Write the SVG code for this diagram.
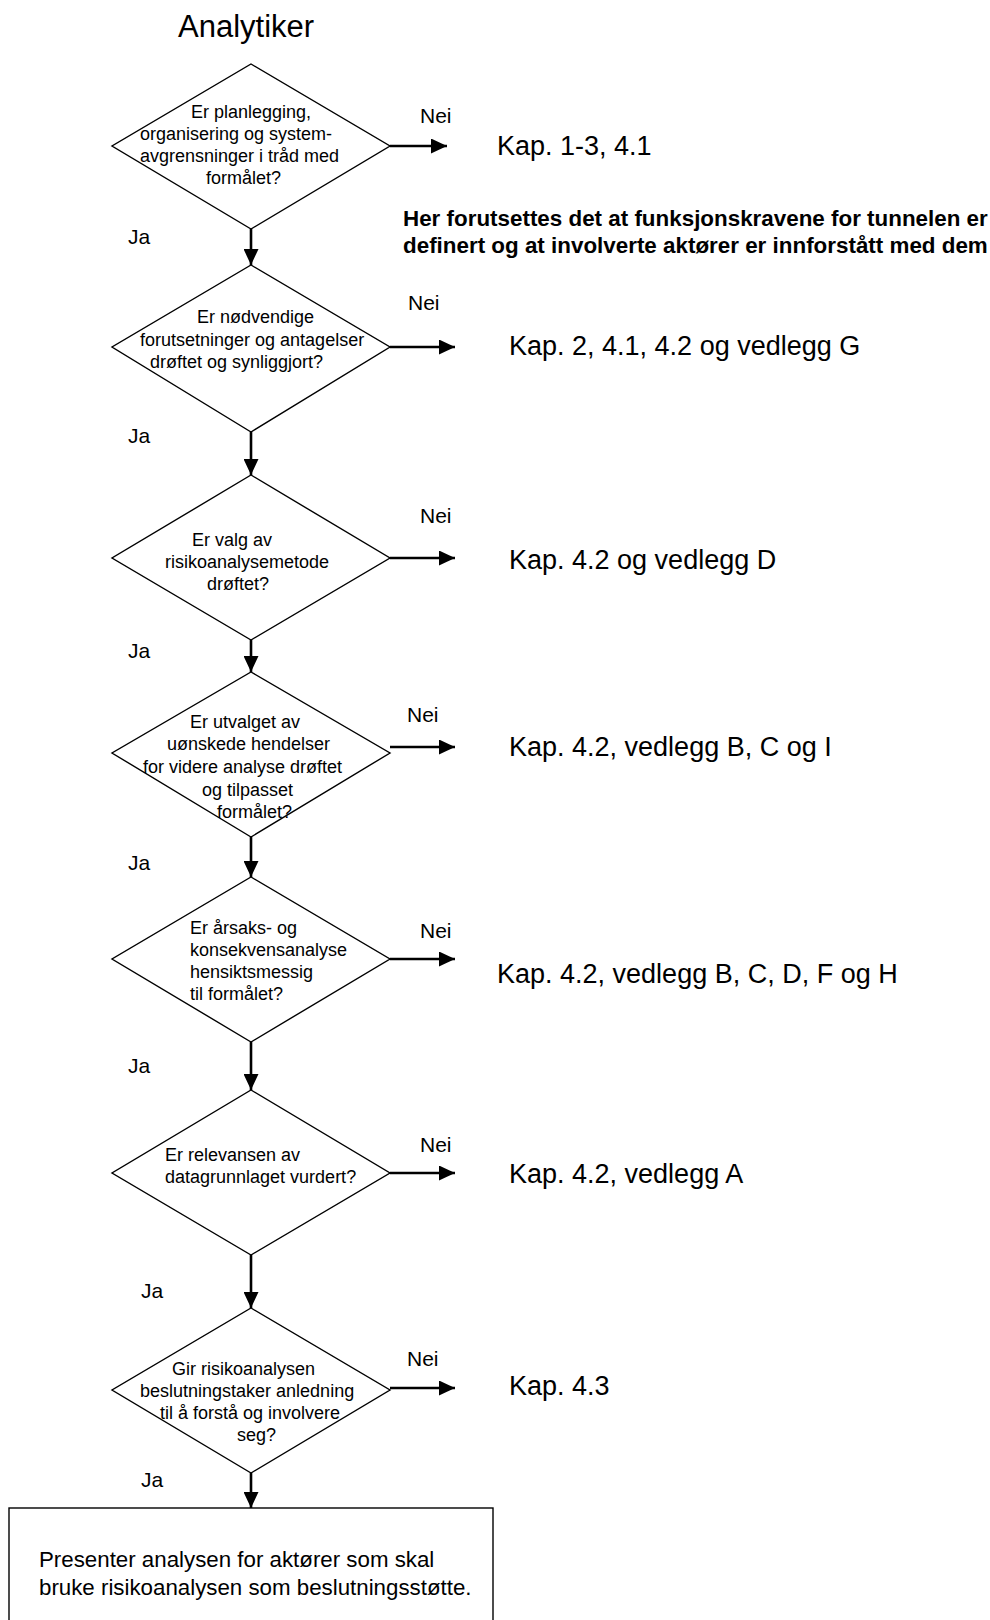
<svg xmlns="http://www.w3.org/2000/svg" width="990" height="1620" viewBox="0 0 990 1620">
  <style>
    text { font-family: "Liberation Sans", Arial, sans-serif; fill: #000; }
    .title { font-size: 31px; }
    .q { font-size: 18px; }
    .yn { font-size: 21px; }
    .ref { font-size: 27px; }
    .note { font-size: 22.4px; font-weight: bold; }
    .box { font-size: 22.3px; }
    .shape { fill: #fff; stroke: #000; stroke-width: 1.4; }
    .flow { stroke: #000; stroke-width: 2.6; fill: none; marker-end: url(#head); }
  </style>
  <defs>
    <marker id="head" markerUnits="userSpaceOnUse" markerWidth="16" markerHeight="15" refX="16" refY="7.5" orient="auto">
      <path d="M0,0 L16,7.5 L0,15 Z" fill="#000"/>
    </marker>
  </defs>
  <rect width="990" height="1620" fill="#fff"/>

  <text class="title" x="178" y="37">Analytiker</text>

  <!-- connectors -->
  <g id="connectors">
    <line class="flow" x1="251" y1="229" x2="251" y2="265"/>
    <line class="flow" x1="251" y1="432" x2="251" y2="475"/>
    <line class="flow" x1="251" y1="640" x2="251" y2="672"/>
    <line class="flow" x1="251" y1="837" x2="251" y2="877"/>
    <line class="flow" x1="251" y1="1042" x2="251" y2="1090"/>
    <line class="flow" x1="251" y1="1255" x2="251" y2="1308"/>
    <line class="flow" x1="251" y1="1473" x2="251" y2="1508"/>

    <line class="flow" x1="390" y1="146" x2="447" y2="146"/>
    <line class="flow" x1="390" y1="347" x2="455" y2="347"/>
    <line class="flow" x1="390" y1="558" x2="455" y2="558"/>
    <line class="flow" x1="390" y1="747" x2="455" y2="747"/>
    <line class="flow" x1="390" y1="959" x2="455" y2="959"/>
    <line class="flow" x1="390" y1="1173" x2="455" y2="1173"/>
    <line class="flow" x1="390" y1="1388" x2="455" y2="1388"/>

    <text class="yn" x="420" y="123">Nei</text>
    <text class="yn" x="408" y="310">Nei</text>
    <text class="yn" x="420" y="523">Nei</text>
    <text class="yn" x="407" y="722">Nei</text>
    <text class="yn" x="420" y="938">Nei</text>
    <text class="yn" x="420" y="1152">Nei</text>
    <text class="yn" x="407" y="1366">Nei</text>

    <text class="yn" x="128" y="244">Ja</text>
    <text class="yn" x="128" y="443">Ja</text>
    <text class="yn" x="128" y="658">Ja</text>
    <text class="yn" x="128" y="870">Ja</text>
    <text class="yn" x="128" y="1073">Ja</text>
    <text class="yn" x="141" y="1298">Ja</text>
    <text class="yn" x="141" y="1487">Ja</text>
  </g>

  <!-- decisions -->
  <g id="q1">
    <polygon class="shape" points="251,64 390,146 251,229 112,146"/>
    <text class="q" x="191" y="118">Er planlegging,</text>
    <text class="q" x="140" y="140">organisering og system-</text>
    <text class="q" x="140" y="162">avgrensninger i tråd med</text>
    <text class="q" x="206" y="184">formålet?</text>
  </g>
  <g id="q2">
    <polygon class="shape" points="251,265 390,347 251,432 112,347"/>
    <text class="q" x="197" y="323">Er nødvendige</text>
    <text class="q" x="140" y="346">forutsetninger og antagelser</text>
    <text class="q" x="150" y="368">drøftet og synliggjort?</text>
  </g>
  <g id="q3">
    <polygon class="shape" points="251,475 390,558 251,640 112,558"/>
    <text class="q" x="192" y="546">Er valg av</text>
    <text class="q" x="165" y="568">risikoanalysemetode</text>
    <text class="q" x="207" y="590">drøftet?</text>
  </g>
  <g id="q4">
    <polygon class="shape" points="251,672 390,753 251,837 112,753"/>
    <text class="q" x="190" y="728">Er utvalget av</text>
    <text class="q" x="167" y="750">uønskede hendelser</text>
    <text class="q" x="143" y="773">for videre analyse drøftet</text>
    <text class="q" x="202" y="796">og tilpasset</text>
    <text class="q" x="217" y="818">formålet?</text>
  </g>
  <g id="q5">
    <polygon class="shape" points="251,877 390,959 251,1042 112,959"/>
    <text class="q" x="190" y="934">Er årsaks- og</text>
    <text class="q" x="190" y="956">konsekvensanalyse</text>
    <text class="q" x="190" y="978">hensiktsmessig</text>
    <text class="q" x="190" y="1000">til formålet?</text>
  </g>
  <g id="q6">
    <polygon class="shape" points="251,1090 390,1173 251,1255 112,1173"/>
    <text class="q" x="165" y="1161">Er relevansen av</text>
    <text class="q" x="165" y="1183">datagrunnlaget vurdert?</text>
  </g>
  <g id="q7">
    <polygon class="shape" points="251,1308 390,1390 251,1473 112,1390"/>
    <text class="q" x="172" y="1375">Gir risikoanalysen</text>
    <text class="q" x="140" y="1397">beslutningstaker anledning</text>
    <text class="q" x="160" y="1419">til å forstå og involvere</text>
    <text class="q" x="237" y="1441">seg?</text>
  </g>

  <!-- chapter references -->
  <g id="refs">
    <text class="ref" x="497" y="155">Kap. 1-3, 4.1</text>
    <text class="ref" x="509" y="355">Kap. 2, 4.1, 4.2 og vedlegg G</text>
    <text class="ref" x="509" y="569">Kap. 4.2 og vedlegg D</text>
    <text class="ref" x="509" y="756">Kap. 4.2, vedlegg B, C og I</text>
    <text class="ref" x="497" y="983">Kap. 4.2, vedlegg B, C, D, F og H</text>
    <text class="ref" x="509" y="1183">Kap. 4.2, vedlegg A</text>
    <text class="ref" x="509" y="1395">Kap. 4.3</text>
  </g>

  <g id="note">
    <text class="note" x="403" y="226">Her forutsettes det at funksjonskravene for tunnelen er</text>
    <text class="note" x="403" y="253">definert og at involverte aktører er innforstått med dem</text>
  </g>

  <g id="result">
    <rect class="shape" x="9" y="1508" width="484" height="120"/>
    <text class="box" x="39" y="1567">Presenter analysen for aktører som skal</text>
    <text class="box" x="39" y="1595">bruke risikoanalysen som beslutningsstøtte.</text>
  </g>
</svg>
